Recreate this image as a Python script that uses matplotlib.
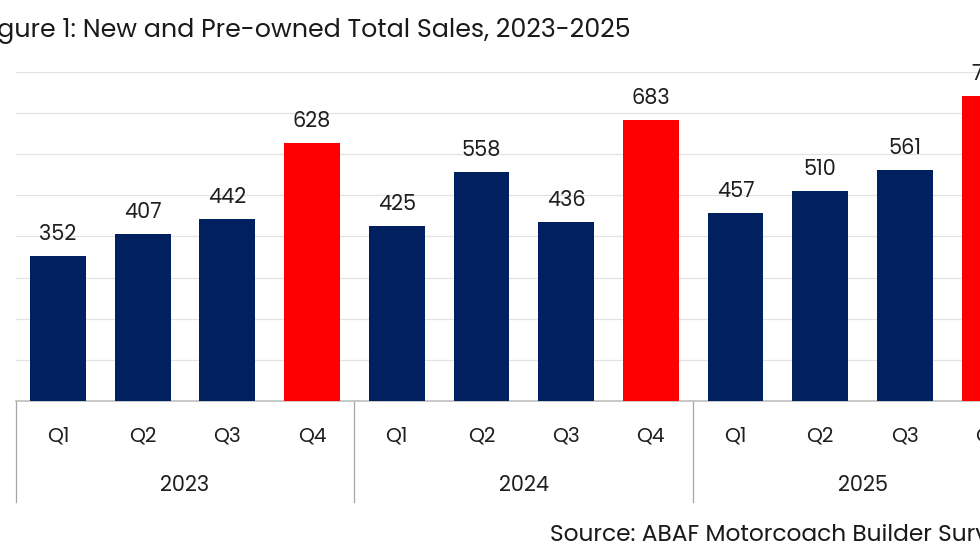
import matplotlib.pyplot as plt
import matplotlib.transforms as mtransforms

# Data
years = ['2023', '2024', '2025']
quarters = ['Q1', 'Q2', 'Q3', 'Q4']
sales = [352, 407, 442, 628, 425, 558, 436, 683, 457, 510, 561, 742]

navy = '#002060'
red = '#FF0000'
text_col = '#1f1f1f'

plt.rcParams['font.family'] = ['Poppins', 'Open Sans', 'DejaVu Sans']

fig = plt.figure(figsize=(9.8, 5.52), dpi=100)
# axes runs past the right edge, as in the (cropped) original
ax = fig.add_axes([0.016, 0.2736, 1.037, 0.596])

labels = [q for y in years for q in quarters]
x = list(range(len(sales)))
colors = [red if q == 'Q4' else navy for q in labels]

bars = ax.bar(x, sales, width=0.66, color=colors, zorder=3)
for xi, v in zip(x, sales):
    ax.text(xi, v + 24, str(v), ha='center', va='bottom', fontsize=15, color=text_col)

ax.set_xlim(-0.5, len(sales) - 0.5)
ax.set_ylim(0, 800)
ax.set_yticks(range(0, 801, 100))
ax.yaxis.grid(True, color='#e3e3e3', linewidth=0.9, zorder=0)
ax.tick_params(axis='y', left=False, labelleft=False)
ax.tick_params(axis='x', length=0, pad=18.5, labelsize=14.5, labelcolor=text_col)
ax.set_xticks(x)
ax.set_xticklabels(labels)

for s in ['top', 'right', 'left']:
    ax.spines[s].set_visible(False)
ax.spines['bottom'].set_color('#bfbfbf')
ax.spines['bottom'].set_linewidth(1.2)

# year group labels and separators
trans = mtransforms.blended_transform_factory(ax.transData, ax.transAxes)
for i, yr in enumerate(years):
    ax.text(4 * i + 1.5, -0.258, yr, transform=trans, ha='center', va='center',
            fontsize=15, color=text_col)
for sep in [-0.5, 3.5, 7.5, 11.5]:
    ax.plot([sep, sep], [0, -0.307], transform=trans, color='#a6a6a6',
            linewidth=0.9, clip_on=False)

fig.text(-0.022, 0.945, 'Figure 1: New and Pre-owned Total Sales, 2023-2025',
         ha='left', va='center', fontsize=18.2, color='#1a1a1a')
fig.text(0.561, 0.03, 'Source: ABAF Motorcoach Builder Survey',
         ha='left', va='center', fontsize=16.8, color='#1a1a1a')

fig.savefig('out.png', dpi=100)
